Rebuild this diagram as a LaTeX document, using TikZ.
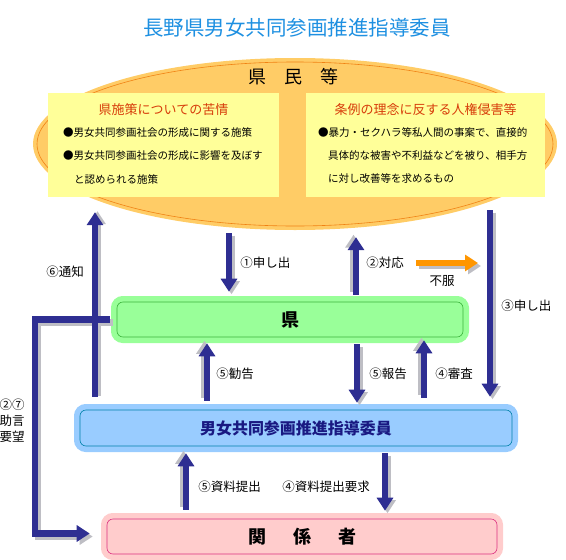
\documentclass[tikz,border=0pt]{standalone}
\usepackage{fontspec}
\setmainfont{Noto Sans CJK JP}
\usetikzlibrary{arrows.meta,shapes.geometric,positioning}
\definecolor{navyarrow}{RGB}{46,46,146}
\definecolor{shadowgray}{RGB}{190,190,196}
\definecolor{titleblue}{RGB}{30,144,225}
\definecolor{ellfill}{RGB}{255,204,102}
\definecolor{ellline}{RGB}{240,130,20}
\definecolor{memoyellow}{RGB}{255,255,153}
\definecolor{headred}{RGB}{215,60,10}
\definecolor{kengreen}{RGB}{153,255,153}
\definecolor{kenline}{RGB}{60,180,60}
\definecolor{iinblue}{RGB}{153,204,255}
\definecolor{iinline}{RGB}{0,130,170}
\definecolor{iintext}{RGB}{25,25,130}
\definecolor{kanpink}{RGB}{255,204,204}
\definecolor{kanline}{RGB}{220,50,130}
\definecolor{fukuorange}{RGB}{255,150,0}
\tikzset{
  flowarrow/.style={draw=navyarrow, line width=6.5pt, -{Triangle[width=16pt,length=13pt]}},
  shadowarrow/.style={draw=shadowgray, line width=6.5pt, -{Triangle[width=16pt,length=13pt]},
    transform canvas={shift={#1}}},
  shadowarrow/.default={(2.5pt,-2.5pt)},
  lbl/.style={font=\fontsize{12.5}{14}\selectfont, inner sep=0pt},
  memotext/.style={anchor=west, inner sep=0pt, font=\fontsize{10.5}{12}\selectfont},
  memohead/.style={inner sep=0pt, text=headred, font=\fontsize{13}{15}\selectfont},
  memobox/.style={fill=memoyellow, minimum height=104pt, inner sep=0pt},
  roundbox/.style 2 args={fill=#1, draw=#2, line width=0.6pt, rounded corners=6pt,
    preaction={draw=#1, line width=12pt}, minimum height=35pt, inner sep=0pt},
}
\begin{document}
\begin{tikzpicture}[x=1pt, y=-1pt]
  \useasboundingbox (0,0) rectangle (566,560) ;
  \node[font=\fontsize{20.5}{22}\selectfont, text=titleblue] (title) at (297,28) {長野県男女共同参画推進指導委員} ;
  % kenmin
  \node[ellipse, fill=ellfill, minimum width=524pt, minimum height=172pt, inner sep=0pt] (kenmin) at (295,144) {} ;
  \draw[ellline, line width=0.6pt] (kenmin.center) ellipse [x radius=258pt, y radius=82pt] ;
  \node[font=\fontsize{18}{20}\selectfont] (kenminlabel) at (293,77) {県　民　等} ;
  \node[memobox, minimum width=231pt] (leftbox) at (163.5,145) {} ;
  \node[memobox, minimum width=239pt] (rightbox) at (425.5,145) {} ;
  \node[memohead] (lhead) at (163.5,110) {県施策についての苦情} ;
  \node[memohead] (rhead) at (425.5,110) {条例の理念に反する人権侵害等} ;
  \node[memotext] (l1) at (63,133) {●男女共同参画社会の形成に関する施策} ;
  \node[memotext] (l2) at (63,156) {●男女共同参画社会の形成に影響を及ぼす} ;
  \node[memotext] (l3) at (74,179) {と認められる施策} ;
  \node[memotext] (r1) at (318,133) {●暴力・セクハラ等私人間の事案で、直接的} ;
  \node[memotext] (r2) at (328,156) {具体的な被害や不利益などを被り、相手方} ;
  \node[memotext] (r3) at (328,179) {に対し改善等を求めるもの} ;
  % boxes
  \node[roundbox={kengreen}{kenline}, minimum width=346pt, font=\fontsize{18}{20}\selectfont\bfseries] (ken) at (290,319.5) {県} ;
  \node[roundbox={iinblue}{iinline}, minimum width=432pt, minimum height=36pt, text=iintext, font=\fontsize{16}{18}\selectfont\bfseries] (iin) at (296,428) {男女共同参画推進指導委員} ;
  \node[roundbox={kanpink}{kanline}, minimum width=390pt, font=\fontsize{18}{20}\selectfont\bfseries] (kankei) at (302,536.5) {関\hspace{27pt}係\hspace{27pt}者} ;
  % arrow columns
  \coordinate (xJogen) at (35,0) ;
  \coordinate (xTsuchi) at (95,0) ;
  \coordinate (xTeishutsu) at (186,0) ;
  \coordinate (xKankoku) at (207,0) ;
  \coordinate (xMoushide) at (229,0) ;
  \coordinate (xTaiou) at (356,0) ;
  \coordinate (xHoukoku) at (357,0) ;
  \coordinate (xYoukyuu) at (385,0) ;
  \coordinate (xShinsa) at (424,0) ;
  \coordinate (xMoushide3) at (490,0) ;
  \coordinate (fukuS) at (416,263) ;
  \coordinate (fukuE) at (478,263) ;
  % shadows
  \draw[shadowarrow, shorten <=3pt, shorten >=10pt] (kenmin.south -| xMoushide) -- (ken.north -| xMoushide) ;
  \draw[shadowarrow={(-2.5pt,2.5pt)}, shorten <=7pt, shorten >=7pt] (ken.north -| xTaiou) -- (kenmin.south -| xTaiou) ;
  \draw[shadowarrow={(3pt,-3pt)}] (fukuS) -- (fukuE) ;
  \draw[shadowarrow, shorten <=13pt, shorten >=13pt] (rightbox.south -| xMoushide3) -- (iin.north -| xMoushide3) ;
  \draw[shadowarrow={(2.5pt,1pt)}, shorten <=13pt, shorten >=15pt] (iin.north -| xTsuchi) -- (leftbox.south -| xTsuchi) ;
  \draw[shadowarrow={(3pt,-3pt)}, shorten <=7pt, shorten >=17pt] (ken.west) -- (ken.west -| xJogen) |- ([yshift=3pt]kankei.west) ;
  \draw[shadowarrow={(-2.5pt,2.5pt)}, shorten <=9pt, shorten >=6pt] (iin.north -| xKankoku) -- (ken.south -| xKankoku) ;
  \draw[shadowarrow, shorten <=7pt, shorten >=7pt] (ken.south -| xHoukoku) -- (iin.north -| xHoukoku) ;
  \draw[shadowarrow={(-2.5pt,2.5pt)}, shorten <=12pt, shorten >=3pt] (iin.north -| xShinsa) -- (ken.south -| xShinsa) ;
  \draw[shadowarrow={(-2.5pt,2.5pt)}, shorten <=9pt, shorten >=7pt] (kankei.north -| xTeishutsu) -- (iin.south -| xTeishutsu) ;
  \draw[shadowarrow, shorten <=7pt, shorten >=8pt] (iin.south -| xYoukyuu) -- (kankei.north -| xYoukyuu) ;
  % arrows
  \draw[flowarrow, shorten <=3pt, shorten >=10pt] (kenmin.south -| xMoushide) -- (ken.north -| xMoushide) node[lbl, pos=0.46, right=8pt] {①申し出} ;
  \draw[flowarrow, shorten <=7pt, shorten >=7pt] (ken.north -| xTaiou) -- (kenmin.south -| xTaiou) node[lbl, pos=0.54, right=7pt] {②対応} ;
  \draw[flowarrow, draw=fukuorange] (fukuS) -- (fukuE) node[lbl, pos=0.42, below=9pt] {不服} ;
  \draw[flowarrow, shorten <=13pt, shorten >=13pt] (rightbox.south -| xMoushide3) -- (iin.north -| xMoushide3) node[lbl, pos=0.51, right=8pt] {③申し出} ;
  \draw[flowarrow, shorten <=7pt, shorten >=17pt] (ken.west) -- (ken.west -| xJogen) |- ([yshift=3pt]kankei.west) ;
  \draw[flowarrow, shorten <=13pt, shorten >=15pt] (iin.north -| xTsuchi) -- (leftbox.south -| xTsuchi) node[lbl, pos=0.65, left=8pt] {⑥通知} ;
  \node[lbl, align=center, font=\fontsize{12.5}{16}\selectfont] (jogen) at (12,421) {②⑦\\助言\\要望} ;
  \draw[flowarrow, shorten <=9pt, shorten >=6pt] (iin.north -| xKankoku) -- (ken.south -| xKankoku) node[lbl, midway, right=6pt] {⑤勧告} ;
  \draw[flowarrow, shorten <=7pt, shorten >=7pt] (ken.south -| xHoukoku) -- (iin.north -| xHoukoku) node[lbl, midway, right=9pt] {⑤報告} ;
  \draw[flowarrow, shorten <=12pt, shorten >=3pt] (iin.north -| xShinsa) -- (ken.south -| xShinsa) node[lbl, pos=0.49, right=8pt] {④審査} ;
  \draw[flowarrow, shorten <=9pt, shorten >=7pt] (kankei.north -| xTeishutsu) -- (iin.south -| xTeishutsu) node[lbl, pos=0.44, right=9pt] {⑤資料提出} ;
  \draw[flowarrow, shorten <=7pt, shorten >=8pt] (iin.south -| xYoukyuu) -- (kankei.north -| xYoukyuu) node[lbl, pos=0.56, left=12pt] {④資料提出要求} ;
\end{tikzpicture}
\end{document}
